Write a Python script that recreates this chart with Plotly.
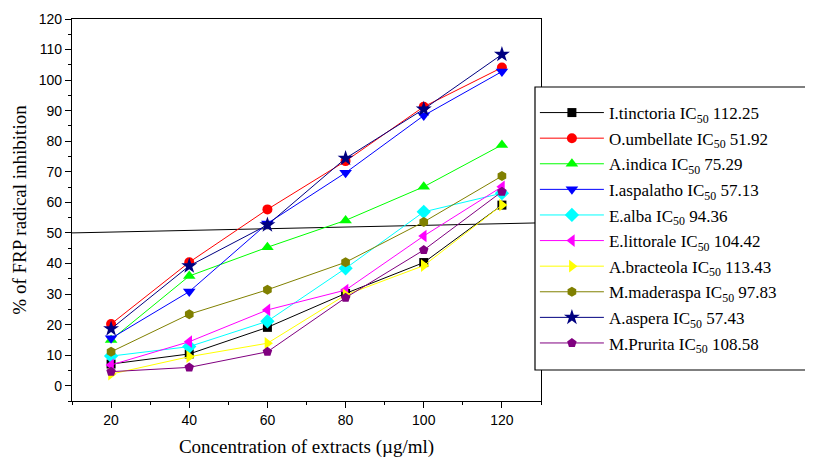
import plotly.graph_objects as go

conc = [20, 40, 60, 80, 100, 120]

names = [
    "I.tinctoria IC<sub>50</sub> 112.25",
    "O.umbellate IC<sub>50</sub> 51.92",
    "A.indica IC<sub>50</sub> 75.29",
    "I.aspalatho IC<sub>50</sub> 57.13",
    "E.alba IC<sub>50</sub> 94.36",
    "E.littorale IC<sub>50</sub> 104.42",
    "A.bracteola IC<sub>50</sub> 113.43",
    "M.maderaspa IC<sub>50</sub> 97.83",
    "A.aspera IC<sub>50</sub> 57.43",
    "M.Prurita IC<sub>50</sub> 108.58",
]

i_tinctoria = [7.1, 10.4, 19.1, 30.2, 40.3, 59.1]
o_umbellate = [20.2, 40.4, 57.7, 73.5, 91.3, 104.1]
a_indica = [15.0, 35.9, 45.3, 54.1, 65.1, 78.8]
i_aspalatho = [15.5, 30.8, 53.1, 69.7, 88.4, 102.8]
e_alba = [9.7, 12.8, 21.1, 38.4, 56.9, 63.0]
e_littorale = [6.8, 14.4, 24.8, 31.3, 49.0, 65.1]
a_bracteola = [3.8, 9.5, 13.9, 29.7, 39.3, 59.1]
m_maderaspa = [11.1, 23.4, 31.4, 40.4, 53.6, 68.6]
a_aspera = [18.6, 39.2, 52.6, 74.4, 90.5, 108.4]
m_prurita = [4.6, 6.0, 11.1, 28.8, 44.4, 63.5]

series = [i_tinctoria, o_umbellate, a_indica, i_aspalatho, e_alba,
          e_littorale, a_bracteola, m_maderaspa, a_aspera, m_prurita]

colors = ["#000000", "#FF0000", "#00FF00", "#0000FF", "#00FFFF",
          "#FF00FF", "#FFFF00", "#808000", "#000080", "#800080"]
symbols = ["square", "circle", "triangle-up", "triangle-down", "diamond",
           "triangle-left", "triangle-right", "hexagon", "star", "pentagon"]
sizes = [9, 10, 11, 11, 11, 11, 11, 10, 12, 10]

# IC50 reference line (50 %)
ref_x = [10, 130]
ref_y = [50.0, 53.3]

fig = go.Figure()

for i, (name, ys, c, s, sz) in enumerate(zip(names, series, colors, symbols, sizes)):
    fig.add_trace(go.Scatter(
        x=conc, y=ys, name=name, mode="lines+markers", legendgroup=f"g{i}",
        line=dict(color=c, width=1),
        marker=dict(color=c, symbol=s, size=sz, line=dict(width=0)),
    ))

fig.add_shape(type="line", x0=ref_x[0], y0=ref_y[0], x1=ref_x[1], y1=ref_y[1],
              xref="x", yref="y", line=dict(color="black", width=1), layer="below")

# legend frame (white box with black border, covering the plot's right edge)
fig.add_shape(type="rect", xref="paper", yref="paper",
              x0=0.9872, x1=1.578, y0=0.0812, y1=0.822,
              line=dict(color="black", width=1.2), fillcolor="white", layer="above")

axis_common = dict(
    showline=True, linecolor="black", linewidth=1.2, mirror=True,
    showgrid=False, zeroline=False, ticks="outside", tickcolor="black",
    automargin=False,
    tickfont=dict(family="Liberation Sans, Arial, sans-serif", size=14, color="black"),
)

fig.update_xaxes(
    range=[10, 130], tickvals=[20, 40, 60, 80, 100, 120], ticklen=6,
    minor=dict(dtick=10, tick0=10, ticks="outside", ticklen=3, tickcolor="black"),
    title=dict(text="Concentration of extracts (\u00b5g/ml)", standoff=12,
               font=dict(family="Liberation Serif, Times New Roman, serif", size=19, color="black")),
    **axis_common,
)
fig.update_yaxes(
    range=[-5, 120], tickvals=list(range(0, 121, 10)), ticklen=6,
    minor=dict(dtick=5, tick0=0, ticks="outside", ticklen=3, tickcolor="black"),
    title=dict(text="% of FRP radical inhibition", standoff=7,
               font=dict(family="Liberation Serif, Times New Roman, serif", size=19, color="black")),
    **axis_common,
)

# page body adds an 8px offset, so the figure is sized/margined to compensate
fig.update_layout(
    width=805, height=451,
    margin=dict(l=64, r=272, t=11, b=58, autoexpand=False),
    plot_bgcolor="white", paper_bgcolor="white",
    legend=dict(
        x=0.987, y=0.801, xanchor="left", yanchor="top",
        bgcolor="rgba(0,0,0,0)", borderwidth=0,
        font=dict(family="Liberation Serif, Times New Roman, serif", size=17, color="black"),
        itemwidth=64, tracegroupgap=0.5,
    ),
    showlegend=True,
)

fig.write_html("out.html")
